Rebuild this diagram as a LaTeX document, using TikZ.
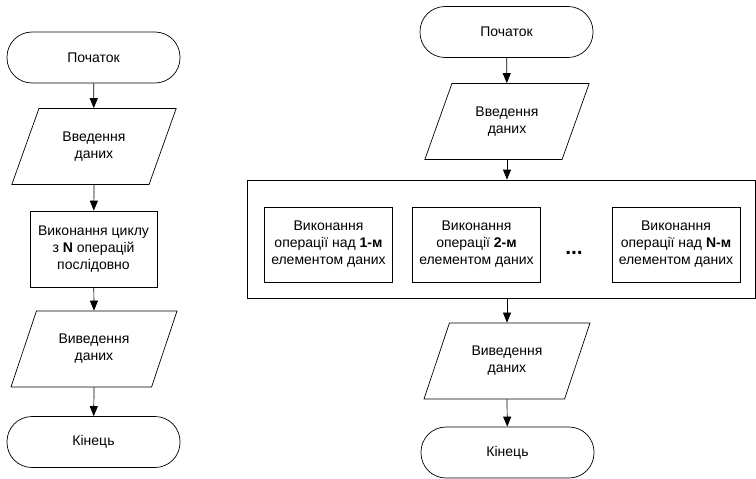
\documentclass[tikz,border=0pt]{standalone}
\usepackage{fontspec}
\setmainfont{Liberation Sans}
\usetikzlibrary{shapes.geometric,arrows.meta}
\begin{document}
\begin{tikzpicture}[x=1pt,y=-1pt,
  every node/.style={font=\fontsize{14}{17}\selectfont, align=center, inner sep=2pt},
  term/.style={draw, line width=0.7pt, rounded corners=25pt, minimum width=173pt, minimum height=51pt},
  io/.style={draw, line width=0.7pt, trapezium, trapezium left angle=63.7, trapezium right angle=116.3, trapezium stretches=true, minimum width=166pt, minimum height=76pt},
  proc/.style={draw, line width=0.7pt, minimum width=127pt, minimum height=76pt},
  op/.style={draw, line width=0.7pt, minimum width=128pt, minimum height=75pt},
  flow/.style={line width=0.7pt, -{Triangle[length=10pt,width=8pt]}}
]
\useasboundingbox (0,0) rectangle (756,479);
% left column
\node[term] (l1) at (93.5,57.5) {Початок};
\node[io] (l2) at (94,146.5) {Введення\\даних};
\node[proc] (l3) at (93.5,249) {Виконання циклу\\з \textbf{N} операцій\\послідовно};
\node[io] (l4) at (94,349) {Виведення\\даних};
\node[term] (l5) at (93.5,442) {Кінець};
\draw[flow] (l1) -- (l2);
\draw[flow] (l2.south) -- (l3);
\draw[flow] (l3) -- (l4.north);
\draw[flow] (l4.south) -- (l5);
% right column
\node[term] (r1) at (506.5,32) {Початок};
\node[io] (r2) at (507,121.5) {Введення\\даних};
\node[draw, line width=0.7pt, minimum width=508pt, minimum height=118pt] (big) at (501,239) {};
\node[op] (o1) at (328.5,244.5) {Виконання\\операції над \textbf{1-м}\\елементом даних};
\node[op] (o2) at (476.5,244.5) {Виконання\\операції \textbf{2-м}\\елементом даних};
\node[anchor=base, font=\fontsize{21}{21}\selectfont\bfseries] (dots) at (574,254) {...};
\node[op] (o3) at (676,244.5) {Виконання\\операції над \textbf{N-м}\\елементом даних};
\node[io] (r3) at (507,361) {Виведення\\даних};
\node[term] (r4) at (507.5,452.5) {Кінець};
\draw[flow] (r1) -- (r2);
\draw[flow] (r2.south) -- (r2.south |- big.north);
\draw[flow] (r3.north |- big.south) -- (r3.north);
\draw[flow] (r3.south) -- (r4);
\end{tikzpicture}
\end{document}
